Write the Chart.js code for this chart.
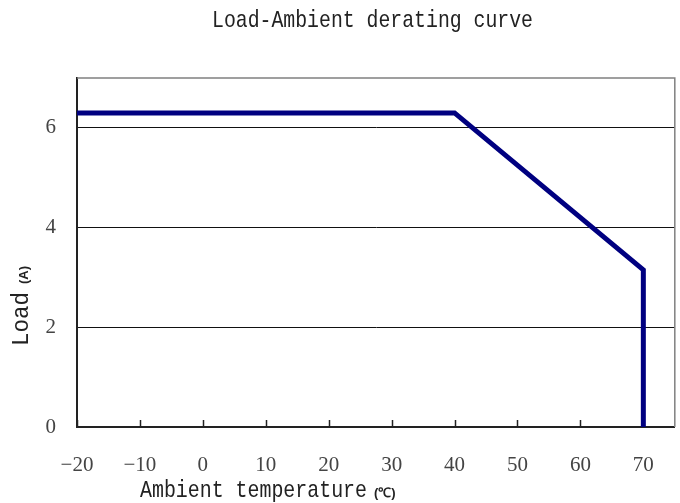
<!DOCTYPE html>
<html>
<head>
<meta charset="utf-8">
<script src="https://cdn.jsdelivr.net/npm/chart.js@4"></script>
<style>
html,body{margin:0;padding:0;background:#fff;}
#wrap{width:680px;height:503px;position:relative;}
</style>
</head>
<body>
<div id="wrap"><canvas id="c" width="680" height="503"></canvas></div>
<script>
const chartTitle = "Load-Ambient derating curve";
const xAxisTitle = "Ambient temperature";
const xAxisUnit = "(℃)";
const yAxisTitle = "Load";
const yAxisUnit = "(A)";
const tempC = [-20, 40, 70, 70];
const loadA = [6.3, 6.3, 3.15, 0];
const xTicks = [-20, -10, 0, 10, 20, 30, 40, 50, 60, 70];
const yTicks = [0, 2, 4, 6];

const MONO = '"Liberation Mono", "DejaVu Sans Mono", monospace';
const SERIF = '"Liberation Serif", "DejaVu Serif", serif';
const SANS = '"Liberation Sans", Arial, sans-serif';

function fitText(ctx, text, x, y, width, font) {
  ctx.save();
  ctx.font = font;
  ctx.translate(x, y);
  const w = ctx.measureText(text).width;
  ctx.scale(width / w, 1);
  ctx.fillText(text, 0, 0);
  ctx.restore();
}

const decor = {
  id: 'decor',
  beforeDatasetsDraw(chart) {
    const ctx = chart.ctx, a = chart.chartArea, xs = chart.scales.x;
    ctx.save();
    ctx.strokeStyle = '#808080';
    ctx.lineWidth = 1.5;
    ctx.beginPath();
    ctx.moveTo(a.left, a.top); ctx.lineTo(a.right, a.top); ctx.lineTo(a.right, a.bottom);
    ctx.stroke();
    ctx.strokeStyle = '#222';
    ctx.lineWidth = 1.5;
    xTicks.forEach(v => {
      const px = Math.round(xs.getPixelForValue(v)) + 0.5;
      ctx.beginPath();
      ctx.moveTo(px, a.bottom);
      ctx.lineTo(px, a.bottom - 7);
      ctx.stroke();
    });
    ctx.restore();
  },
  afterDraw(chart) {
    const ctx = chart.ctx;
    ctx.save();
    ctx.fillStyle = '#222';
    ctx.textAlign = 'left';
    ctx.textBaseline = 'alphabetic';
    fitText(ctx, chartTitle, 212, 27, 321, '24px ' + MONO);
    fitText(ctx, xAxisTitle, 140, 497, 227, '24px ' + MONO);
    ctx.font = 'bold 13px ' + SANS;
    ctx.fillText(xAxisUnit, 374, 497);
    ctx.save();
    ctx.translate(28, 346);
    ctx.rotate(-Math.PI / 2);
    fitText(ctx, yAxisTitle, 0, 0, 54, '24px ' + MONO);
    ctx.font = 'bold 13px ' + SANS;
    ctx.fillText(yAxisUnit, 62, 0);
    ctx.restore();
    ctx.restore();
  }
};

new Chart(document.getElementById('c'), {
  type: 'line',
  data: {
    datasets: [{
      data: tempC.map((t, i) => ({ x: t, y: loadA[i] })),
      borderColor: '#000080',
      borderWidth: 5,
      pointRadius: 0,
      tension: 0,
      fill: false,
      borderJoinStyle: 'miter'
    }]
  },
  options: {
    responsive: false,
    animation: false,
    devicePixelRatio: 1,
    layout: { padding: { top: 78, right: 3, left: 0, bottom: 0 } },
    plugins: { legend: { display: false }, tooltip: { enabled: false }, title: { display: false } },
    scales: {
      x: {
        type: 'linear',
        min: -20, max: 75,
        afterBuildTicks: s => { s.ticks = xTicks.map(v => ({ value: v })); },
        afterFit: s => { s.height = 76; },
        grid: { display: false, drawTicks: false },
        border: { display: true, color: '#222', width: 2 },
        ticks: { color: '#444', font: { family: SERIF, size: 21 }, padding: 26, maxRotation: 0, autoSkip: false,
                 callback: v => String(v).replace('-', '\u2212') }
      },
      y: {
        min: 0, max: 7,
        afterBuildTicks: s => { s.ticks = yTicks.map(v => ({ value: v })); },
        afterFit: s => { s.width = 77; },
        grid: { color: '#111', lineWidth: 1, drawTicks: false },
        border: { display: true, color: '#222', width: 2 },
        ticks: { color: '#444', font: { family: SERIF, size: 21 }, padding: 21 }
      }
    }
  },
  plugins: [decor]
});
</script>
</body>
</html>
